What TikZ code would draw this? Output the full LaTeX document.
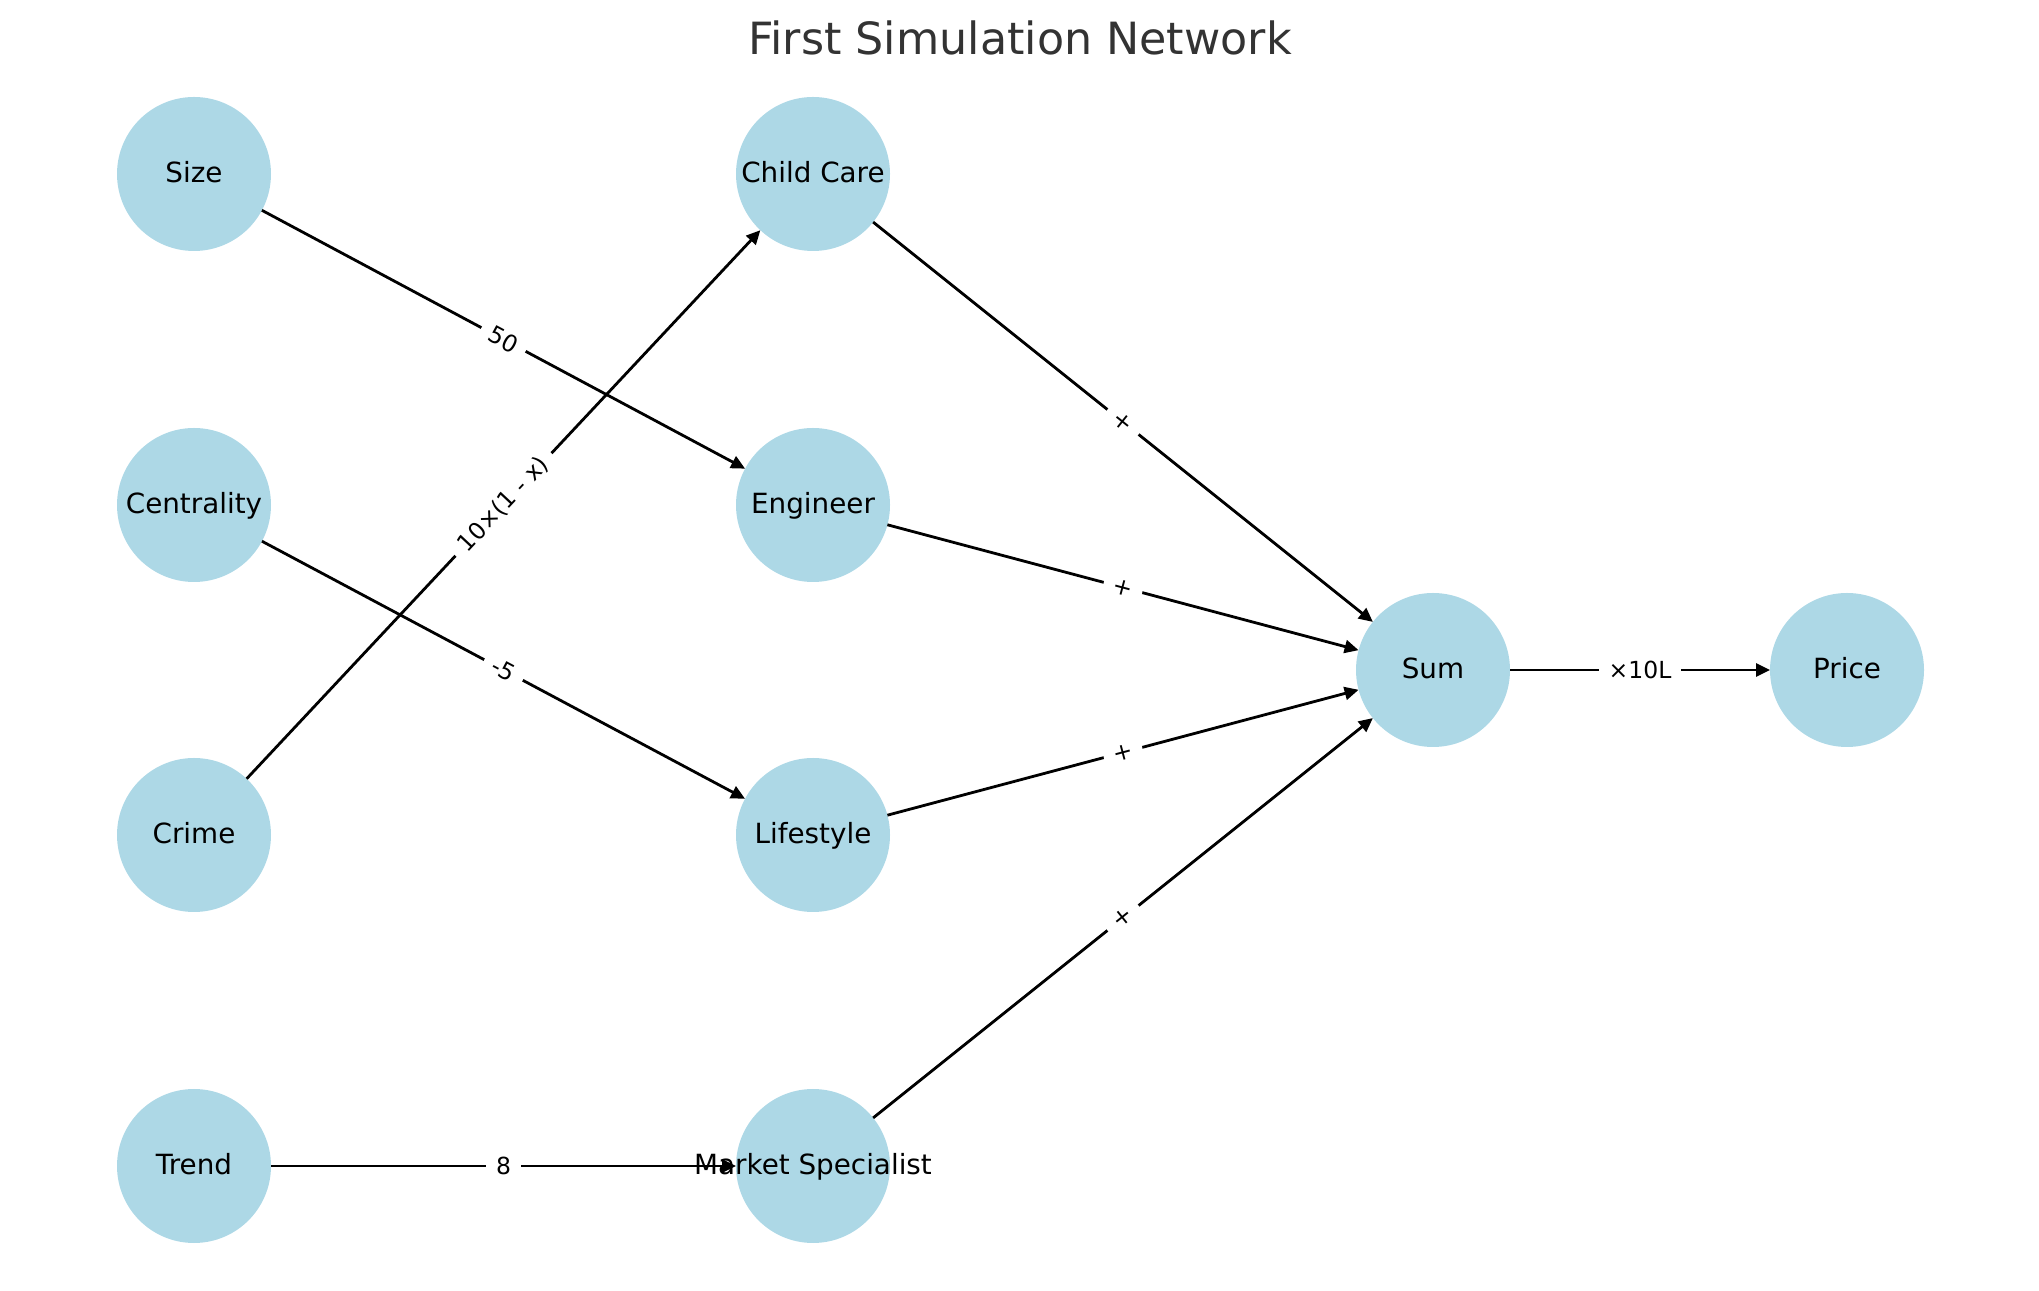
\documentclass[tikz,border=0pt]{standalone}
\usepackage{fontspec}
\setmainfont{DejaVu Sans}
\usetikzlibrary{arrows.meta}
\definecolor{nodeblue}{RGB}{173,216,230}
\definecolor{titlegray}{RGB}{51,51,51}
\newcommand\mynodefont{\fontsize{27.8}{33}\selectfont}
\newcommand\myedgefont{\fontsize{23.5}{28}\selectfont}
\newcommand\mytitlefont{\fontsize{44.4}{53}\selectfont}
\begin{document}
\begin{tikzpicture}[x=1pt,y=1pt,
  vert/.style={circle, fill=nodeblue, minimum size=154pt, inner sep=0pt, outer sep=0pt,
    label={[font=\mynodefont, inner sep=0pt, text height=22.2pt, text depth=4.4pt]center:#1}},
  link/.style={line width=2.8pt, -{Triangle[length=14pt,width=13pt]}},
  elabel/.style={sloped, midway, fill=white, font=\myedgefont, inner xsep=10pt, inner ysep=5pt}]
\useasboundingbox (0,0) rectangle (2039,1290);
\node[font=\mytitlefont, text=titlegray, anchor=base] (title) at (1020,1235) {First Simulation Network};
% nodes
\node[vert=Size] (size) at (194,1116) {};
\node[vert=Centrality] (cent) at (194,785) {};
\node[vert=Crime] (crime) at (194,455) {};
\node[vert=Trend] (trend) at (194,124) {};
\node[vert=Child Care] (cc) at (813,1116) {};
\node[vert=Engineer] (eng) at (813,785) {};
\node[vert=Lifestyle] (life) at (813,455) {};
\node[vert=Market Specialist] (ms) at (813,124) {};
\node[vert=Sum] (sum) at (1433,620) {};
\node[vert=Price] (price) at (1847,620) {};
% edges
\draw[link] (size) -- (eng);
\draw[link] (cent) -- (life);
\draw[link] (crime) -- (cc);
\draw[link] (trend) -- (ms);
\draw[link] (cc) -- (sum);
\draw[link] (eng) -- (sum);
\draw[link] (life) -- (sum);
\draw[link] (ms) -- (sum);
\draw[link] (sum) -- (price);
% edge labels
\path (size) -- (eng) node[elabel] (l1) {50};
\path (cent) -- (life) node[elabel] (l2) {-5};
\path (crime) -- (cc) node[elabel] (l3) {10×(1 - x)};
\path (trend) -- (ms) node[elabel] (l4) {8};
\path (cc) -- (sum) node[elabel] (l5) {+};
\path (eng) -- (sum) node[elabel] (l6) {+};
\path (life) -- (sum) node[elabel] (l7) {+};
\path (ms) -- (sum) node[elabel] (l8) {+};
\path (sum) -- (price) node[elabel] (l9) {×10L};
\end{tikzpicture}
\end{document}
